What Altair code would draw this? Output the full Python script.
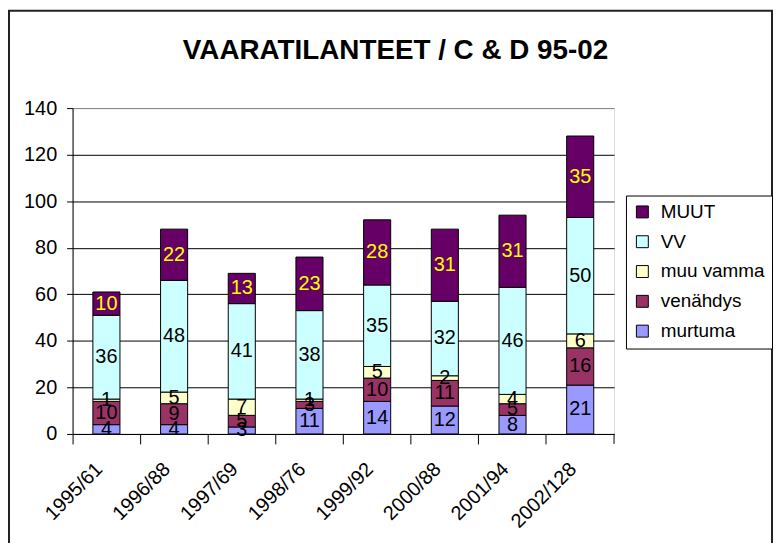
import altair as alt
import pandas as pd

years = ["1995/61", "1996/88", "1997/69", "1998/76", "1999/92", "2000/88", "2001/94", "2002/128"]
series = ["murtuma", "venähdys", "muu vamma", "VV", "MUUT"]
murtuma = [4, 4, 3, 11, 14, 12, 8, 21]
venahdys = [10, 9, 5, 3, 10, 11, 5, 16]
muu_vamma = [1, 5, 7, 1, 5, 2, 4, 6]
vv = [36, 48, 41, 38, 35, 32, 46, 50]
muut = [10, 22, 13, 23, 28, 31, 31, 35]
y_ticks = [0, 20, 40, 60, 80, 100, 120, 140]
title_text = "VAARATILANTEET / C & D 95-02"

legend_order = ["MUUT", "VV", "muu vamma", "venähdys", "murtuma"]
legend_colors = ["#660066", "#CCFFFF", "#FFFFCC", "#993366", "#9999FF"]

FONT = "Liberation Sans"

rows = []
all_vals = [murtuma, venahdys, muu_vamma, vv, muut]
for i, yr in enumerate(years):
    base = 0
    for k, (s, vals) in enumerate(zip(series, all_vals)):
        v = vals[i]
        rows.append(dict(year=yr, series=s, value=v, order=k,
                         y0=base, y1=base + v, mid=base + v / 2))
        base += v
df = pd.DataFrame(rows)

xscale = alt.Scale(domain=years, paddingInner=0, paddingOuter=0)
yscale = alt.Scale(domain=[0, 140], nice=False)

x_axis = alt.Axis(bandPosition=0, tickSize=10, tickColor="black", domainColor="black",
                  labelAngle=-45, labelAlign="right", labelBaseline="middle",
                  labelOffset=-7, labelPadding=22, labelFontSize=20, labelFont=FONT,
                  labelColor="black", title=None, grid=False)
y_axis = alt.Axis(values=y_ticks, tickSize=6, tickColor="black", domainColor="black",
                  labelFontSize=20, labelFont=FONT, labelColor="black", labelPadding=10,
                  title=None, grid=True,
                  gridColor={"condition": {"test": "datum.value === 140", "value": "#808080"},
                             "value": "black"},
                  gridOpacity=1)

frame = alt.Chart(pd.DataFrame({"d": [0]})).mark_rect(
    fill="white", fillOpacity=0, stroke="#222222", strokeWidth=2
).encode(x=alt.value(-64), x2=alt.value(704), y=alt.value(-98), y2=alt.value(480))

# closing category tick at the right end of the x axis
end_tick = alt.Chart(pd.DataFrame({"d": [0]})).mark_rule(color="black", strokeWidth=1).encode(
    x=alt.value(545), y=alt.value(328), y2=alt.value(338))

title = alt.Chart(pd.DataFrame({"t": [title_text]})).mark_text(
    font=FONT, fontSize=28, fontWeight="bold", color="black",
    align="center", baseline="alphabetic"
).encode(text="t:N", x=alt.value(325), y=alt.value(-49))

bars = alt.Chart(df).mark_bar(stroke="black", strokeWidth=1,
                              width=alt.RelativeBandSize(0.4)).encode(
    x=alt.X("year:N", sort=years, scale=xscale, axis=x_axis),
    y=alt.Y("y0:Q", scale=yscale, axis=y_axis),
    y2="y1:Q",
    color=alt.Color("series:N",
                    scale=alt.Scale(domain=legend_order, range=legend_colors),
                    legend=alt.Legend(title=None, orient="none", legendX=557, legendY=88,
                                      strokeColor="black", fillColor="white", padding=7,
                                      symbolType="square", symbolSize=144,
                                      symbolStrokeColor="black", symbolStrokeWidth=1,
                                      labelFontSize=19, labelFont=FONT, labelColor="black",
                                      labelOffset=9, rowPadding=10)),
)

texts = alt.Chart(df).mark_text(fontSize=20, font=FONT, baseline="middle", align="center").encode(
    x=alt.X("year:N", sort=years, scale=xscale),
    y=alt.Y("mid:Q", scale=yscale),
    text="value:Q",
    color=alt.condition(alt.datum.series == "MUUT", alt.value("#FFFF00"), alt.value("black")),
)

chart = alt.layer(frame, end_tick, title, bars, texts).properties(
    width=545, height=328,
    padding={"left": 65, "top": 99, "right": 161, "bottom": 108},
    autosize=alt.AutoSizeParams(type="none"),
).configure_view(fill="#C0C0C0", stroke="#808080", strokeWidth=1).configure(background="white")

chart.save("out.html", embed_options={"renderer": "svg", "actions": False})
